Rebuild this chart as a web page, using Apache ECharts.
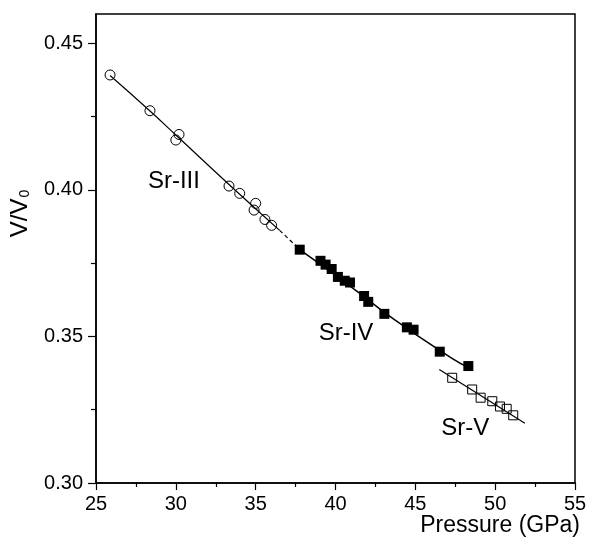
<!DOCTYPE html>
<html>
<head>
<meta charset="utf-8">
<script src="https://cdn.jsdelivr.net/npm/echarts@6/dist/echarts.min.js"></script>
<style>html,body{margin:0;padding:0;background:#fff}#c{width:590px;height:538px}</style>
</head>
<body>
<div id="c"></div>
<script>
// Sr-III (open circles)
var srIII = [[25.88,0.4392],[28.38,0.4270],[30.20,0.4189],[30.00,0.4170],[33.33,0.4013],[34.00,0.3988],[35.00,0.3954],[34.90,0.3931],[35.58,0.3899],[36.00,0.3879]];
// Sr-IV (filled squares)
var srIV = [[37.76,0.3796],[39.06,0.3758],[39.38,0.3745],[39.76,0.3730],[40.15,0.3703],[40.58,0.3690],[40.91,0.3684],[41.79,0.3638],[42.05,0.3618],[43.06,0.3577],[44.47,0.3531],[44.89,0.3523],[46.53,0.3448],[48.32,0.3399]];
// Sr-V (open squares)
var srV = [[47.31,0.3359],[48.56,0.3319],[49.09,0.3291],[49.82,0.3279],[50.30,0.3261],[50.72,0.3253],[51.13,0.3231]];
// fitted curves
var fitIII = [[25.88,0.4390],[28.4,0.4268],[30.1,0.4182],[33.5,0.4010],[36.5,0.3862]];
var fitIIIdash = [[36.5,0.3862],[37.7,0.3800]];
var fitIV = [[37.76,0.3796],[41.06,0.3666],[43.69,0.3557],[47.27,0.3426],[48.32,0.3394]];
var fitV = [[46.5,0.3387],[51.86,0.3204]];
// phase labels
var phaseLabels = [{name:'Sr-III', value:[29.88,0.4030]},{name:'Sr-IV', value:[40.66,0.3509]},{name:'Sr-V', value:[48.13,0.3188]}];
var xTicks = [25,30,35,40,45,50,55];
var yTicks = [0.30,0.35,0.40,0.45];

var FONT = 'Liberation Sans, Arial, sans-serif';
var chart = echarts.init(document.getElementById('c'), null, {renderer:'canvas'});
var lineStyle = {color:'#000', width:1.2};
chart.setOption({
  animation:false,
  backgroundColor:'#fff',
  grid:{left:96, right:15, top:14, bottom:55, show:true, borderColor:'#000', borderWidth:1.5, backgroundColor:'transparent'},
  xAxis:{
    type:'value', min:25, max:55, interval:5,
    name:'Pressure (GPa)', nameLocation:'end', nameGap:5,
    nameTextStyle:{fontFamily:FONT, fontSize:23, color:'#000', align:'right', verticalAlign:'top', padding:[31,0,0,0]},
    axisLine:{show:true, lineStyle:{color:'#000', width:1.5}},
    axisTick:{show:true, inside:false, length:7, lineStyle:{color:'#000', width:1.2}},
    minorTick:{show:true, splitNumber:2, length:4, lineStyle:{color:'#000', width:1.2}},
    axisLabel:{fontFamily:FONT, fontSize:20, color:'#000', margin:11, formatter:function(v){return xTicks.indexOf(v)>=0?String(v):'';}},
    splitLine:{show:false}
  },
  yAxis:{
    type:'value', min:0.30, max:0.46, interval:0.05,
    name:'{a|V/V}{b|0}', nameLocation:'middle', nameGap:64, nameRotate:90,
    nameTextStyle:{padding:[0,0,0,70], rich:{a:{fontFamily:FONT, fontSize:24, color:'#000'}, b:{fontFamily:FONT, fontSize:14, color:'#000', verticalAlign:'bottom', padding:[10,0,0,1]}}},
    axisLine:{show:true, lineStyle:{color:'#000', width:1.5}},
    axisTick:{show:true, inside:false, length:8, lineStyle:{color:'#000', width:1.2}, customValues:yTicks},
    minorTick:{show:true, splitNumber:2, length:5, lineStyle:{color:'#000', width:1.2}},
    axisLabel:{fontFamily:FONT, fontSize:20, color:'#000', margin:13, customValues:yTicks, formatter:function(v){return v.toFixed(2);}},
    splitLine:{show:false}
  },
  series:[
    {type:'line', data:fitIII, showSymbol:false, smooth:true, lineStyle:lineStyle, z:2},
    {type:'line', data:fitIIIdash, showSymbol:false, lineStyle:{color:'#000', width:1.2, type:[4,3]}, z:2},
    {type:'line', data:fitIV, showSymbol:false, smooth:true, lineStyle:{color:'#000', width:1.5}, z:2},
    {type:'line', data:fitV, showSymbol:false, lineStyle:lineStyle, z:2},
    {type:'scatter', data:srIII, symbol:'circle', symbolSize:10, itemStyle:{color:'rgba(0,0,0,0)', borderColor:'#000', borderWidth:1, opacity:1}, z:3},
    {type:'scatter', data:srIV, symbol:'rect', symbolSize:10, itemStyle:{color:'#000', borderColor:'#000', borderWidth:0, opacity:1}, z:3},
    {type:'scatter', data:srV, symbol:'rect', symbolSize:9, itemStyle:{color:'rgba(0,0,0,0)', borderColor:'#000', borderWidth:1, opacity:1}, z:3},
    {type:'scatter', data:phaseLabels, symbolSize:0, silent:true, z:4, itemStyle:{opacity:1},
      label:{show:true, position:'inside', formatter:'{b}', fontFamily:FONT, fontSize:24, color:'#000', opacity:1}}
  ]
});
</script>
</body>
</html>
